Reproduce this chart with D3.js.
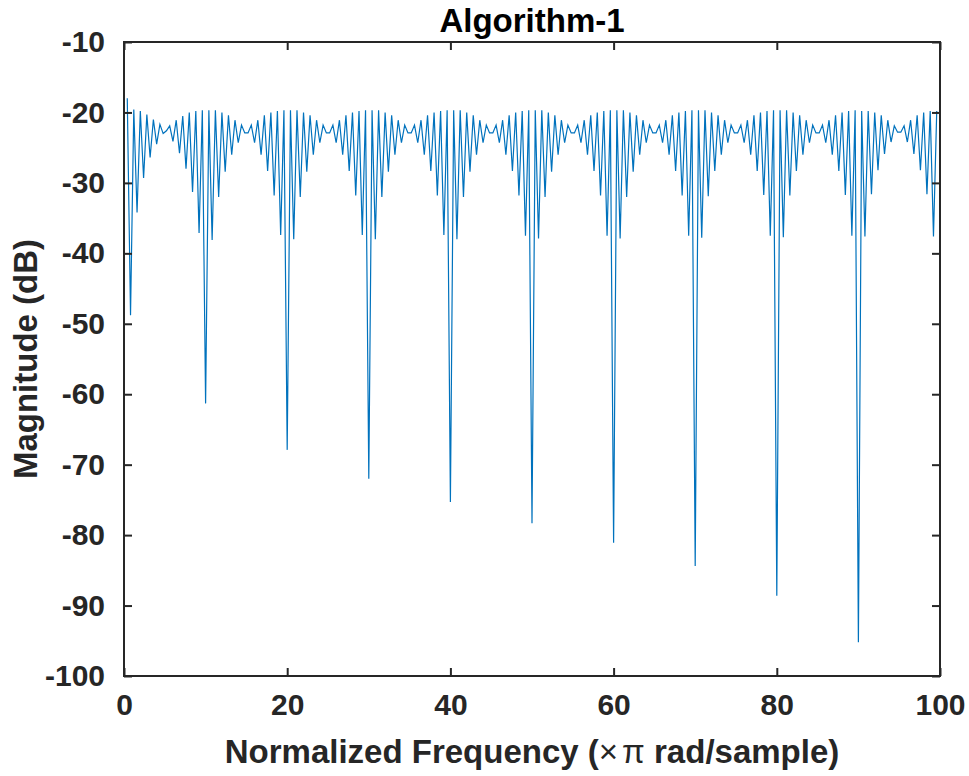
<!DOCTYPE html>
<html>
<head>
<meta charset="utf-8">
<script src="https://cdn.jsdelivr.net/npm/d3@7"></script>
<style>
  html, body { margin: 0; padding: 0; background: #fff; }
  svg { display: block; }
  text { font-family: "Liberation Sans", Arial, Helvetica, sans-serif; }
</style>
</head>
<body>
<svg id="chart" width="969" height="776"></svg>
<script>
// ---------------- data ----------------
const titleText = "Algorithm-1";
const yLabelText = "Magnitude (dB)";
const xTicks = [0, 20, 40, 60, 80, 100];
const yTicks = [-100, -90, -80, -70, -60, -50, -40, -30, -20, -10];
const xDomain = [0, 100];
const yDomain = [-100, -10];
// frequency grid (x = freqStart + i * freqStep, in ×π rad/sample)
const freqStart = 0.4;
const freqStep = 0.4;
// magnitude response (dB), one value per frequency sample
const magnitudeDb = [
  // 0.4 – 10.0
  -18.0,-48.8,-19.6,-34.2,-19.8,-29.3,-20.3,-26.4,-21.0,-24.5,-21.7,-23.0,-22.6,-21.9,-24.1,-21.1,-25.8,-20.5,-28.0,-20.0,-31.3,-19.8,-37.1,-19.7,-61.3,
  // 10.4 – 20.0
  -19.7,-38.1,-19.7,-32.0,-20.0,-28.4,-20.4,-26.0,-21.1,-24.3,-21.8,-22.9,-22.9,-21.8,-24.3,-21.1,-26.0,-20.4,-28.3,-20.0,-31.8,-19.8,-37.4,-19.7,-67.9,
  // 20.4 – 30.0
  -19.7,-38.0,-19.7,-32.0,-20.0,-28.4,-20.4,-26.0,-21.1,-24.3,-21.8,-22.9,-22.9,-21.8,-24.3,-21.1,-26.0,-20.4,-28.3,-20.0,-31.8,-19.8,-37.4,-19.7,-72.0,
  // 30.4 – 40.0
  -19.7,-38.0,-19.7,-32.0,-20.0,-28.4,-20.4,-26.0,-21.1,-24.3,-21.8,-22.9,-22.9,-21.8,-24.3,-21.1,-26.0,-20.4,-28.3,-20.0,-31.8,-19.8,-37.4,-19.7,-75.3,
  // 40.4 – 50.0
  -19.7,-38.0,-19.7,-32.0,-20.0,-28.4,-20.4,-26.0,-21.1,-24.3,-21.8,-22.9,-22.9,-21.8,-24.3,-21.1,-26.0,-20.4,-28.3,-20.0,-31.8,-19.8,-37.5,-19.7,-78.3,
  // 50.4 – 60.0
  -19.7,-37.9,-19.7,-32.0,-20.0,-28.4,-20.4,-26.0,-21.1,-24.3,-21.8,-22.9,-22.9,-21.8,-24.3,-21.1,-26.0,-20.4,-28.3,-20.0,-31.8,-19.8,-37.5,-19.7,-81.1,
  // 60.4 – 70.0
  -19.7,-37.9,-19.7,-32.0,-20.0,-28.4,-20.4,-26.0,-21.1,-24.3,-21.8,-22.9,-22.9,-21.8,-24.3,-21.1,-26.0,-20.4,-28.3,-20.0,-31.8,-19.8,-37.5,-19.7,-84.4,
  // 70.4 – 80.0
  -19.7,-37.8,-19.7,-31.9,-20.0,-28.3,-20.4,-26.0,-21.1,-24.3,-21.8,-22.9,-22.9,-21.8,-24.3,-21.1,-26.0,-20.4,-28.3,-20.0,-31.7,-19.8,-37.5,-19.7,-88.6,
  // 80.4 – 90.0
  -19.7,-37.7,-19.7,-31.8,-20.0,-28.3,-20.4,-26.0,-21.1,-24.3,-21.8,-22.9,-22.9,-21.8,-24.3,-21.1,-26.0,-20.4,-28.3,-20.0,-31.7,-19.8,-37.5,-19.7,-95.2,
  // 90.4 – 99.6
  -19.8,-37.6,-19.8,-31.6,-20.0,-28.2,-20.4,-25.9,-21.1,-24.2,-21.9,-22.8,-22.8,-21.9,-24.2,-21.1,-25.9,-20.4,-28.2,-20.0,-31.6,-19.8,-37.6,-19.8
];

// ---------------- layout ----------------
const plot = { left: 124, right: 940, top: 42, bottom: 676 };
const axisColor = "#262626";
const lineColor = "#0072BD";
const tickLen = 8;

const svg = d3.select("#chart");
const x = d3.scaleLinear().domain(xDomain).range([plot.left, plot.right]);
const y = d3.scaleLinear().domain(yDomain).range([plot.bottom, plot.top]);

const points = magnitudeDb.map((v, i) => ({ f: freqStart + i * freqStep, v }));

// clip
svg.append("defs").append("clipPath").attr("id", "clip")
  .append("rect")
  .attr("x", plot.left).attr("y", plot.top)
  .attr("width", plot.right - plot.left).attr("height", plot.bottom - plot.top);

// data line
const line = d3.line().x(d => x(d.f)).y(d => y(d.v));
svg.append("path")
  .datum(points)
  .attr("clip-path", "url(#clip)")
  .attr("fill", "none")
  .attr("stroke", lineColor)
  .attr("stroke-width", 1.2)
  .attr("stroke-linejoin", "miter")
  .attr("d", line);

// axes (ticks inward on all four sides)
const fmt = d => String(d);
const axBottom = d3.axisBottom(x).tickValues(xTicks).tickFormat(fmt).tickSizeInner(-tickLen).tickSizeOuter(0).tickPadding(tickLen + 10);
const axTop = d3.axisTop(x).tickValues(xTicks).tickFormat("").tickSizeInner(-tickLen).tickSizeOuter(0);
const axLeft = d3.axisLeft(y).tickValues(yTicks).tickFormat(fmt).tickSizeInner(-tickLen).tickSizeOuter(0).tickPadding(tickLen + 11);
const axRight = d3.axisRight(y).tickValues(yTicks).tickFormat("").tickSizeInner(-tickLen).tickSizeOuter(0);

function styleAxis(g) {
  g.select(".domain").remove();
  g.selectAll(".tick line").attr("stroke", axisColor).attr("stroke-width", 2);
  g.selectAll(".tick text")
    .attr("fill", axisColor)
    .style("font-size", "30px")
    .style("font-weight", "bold")
    .style("font-family", '"Liberation Sans", Arial, sans-serif');
}

svg.append("g").attr("transform", `translate(0,${plot.bottom})`).call(axBottom).call(styleAxis);
svg.append("g").attr("transform", `translate(0,${plot.top})`).call(axTop).call(styleAxis);
svg.append("g").attr("transform", `translate(${plot.left},0)`).call(axLeft).call(styleAxis);
svg.append("g").attr("transform", `translate(${plot.right},0)`).call(axRight).call(styleAxis);

// box
svg.append("rect")
  .attr("x", plot.left).attr("y", plot.top)
  .attr("width", plot.right - plot.left).attr("height", plot.bottom - plot.top)
  .attr("fill", "none").attr("stroke", axisColor).attr("stroke-width", 2);

// title
svg.append("text")
  .attr("x", (plot.left + plot.right) / 2).attr("y", 32)
  .attr("text-anchor", "middle")
  .attr("fill", "#000")
  .style("font-size", "33px").style("font-weight", "bold")
  .text(titleText);

// x label
const xl = svg.append("text")
  .attr("x", (plot.left + plot.right) / 2).attr("y", 763)
  .attr("text-anchor", "middle")
  .attr("fill", axisColor)
  .style("font-size", "33px").style("font-weight", "bold");
xl.append("tspan").text("Normalized Frequency (");
xl.append("tspan").style("font-weight", "normal").text("\u00D7");
xl.append("tspan").style("font-weight", "normal").attr("dx", 4).text("\u03C0");
xl.append("tspan").text(" rad/sample)");

// y label
svg.append("text")
  .attr("transform", `translate(37,${(plot.top + plot.bottom) / 2}) rotate(-90)`)
  .attr("text-anchor", "middle")
  .attr("fill", axisColor)
  .style("font-size", "33px").style("font-weight", "bold")
  .text(yLabelText);
</script>
</body>
</html>
